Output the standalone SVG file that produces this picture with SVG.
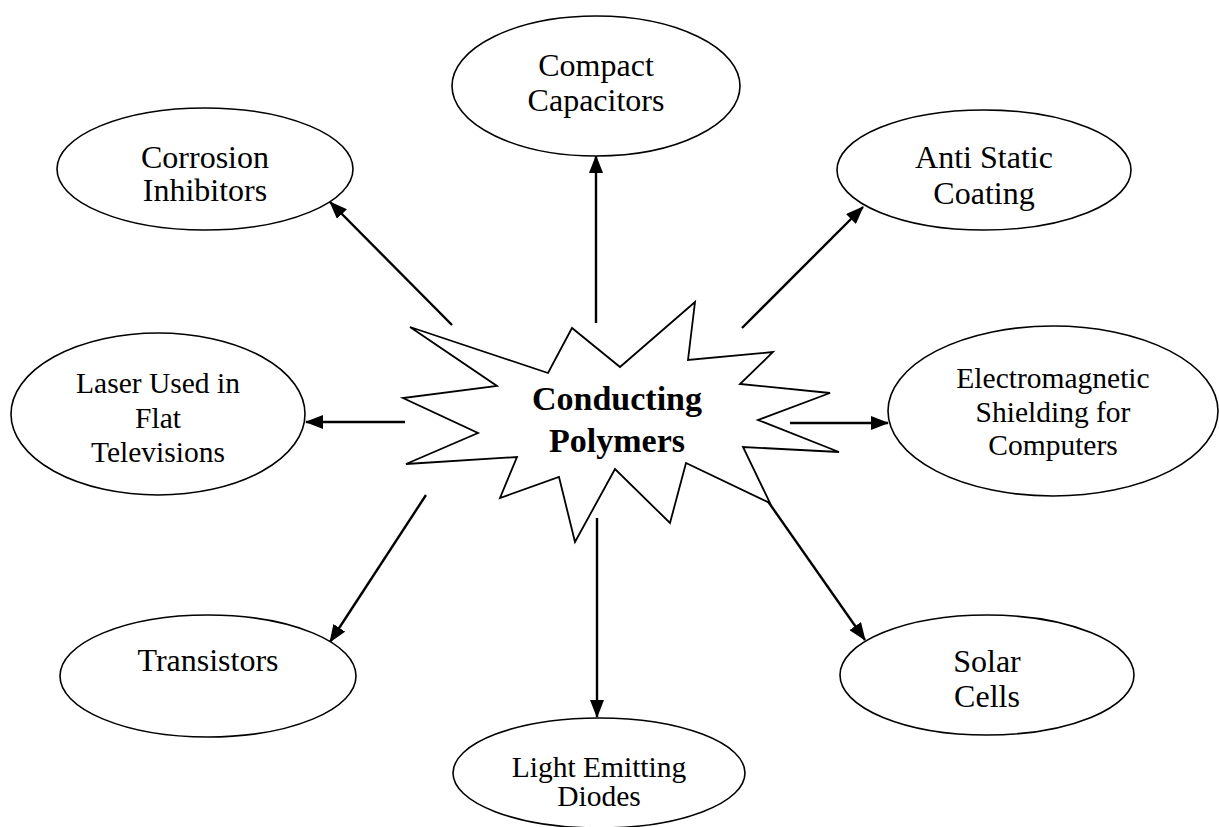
<svg xmlns="http://www.w3.org/2000/svg" width="1219" height="827" viewBox="0 0 1219 827">
<style>
.node ellipse{fill:#fff;stroke:#000;stroke-width:1.6}
.node text{font-family:"Liberation Serif","Times New Roman",serif;font-size:32px;fill:#000;text-anchor:middle}
.node text.s{font-size:29.5px}
.conn line{stroke:#000;stroke-width:2.4;marker-end:url(#ah)}
#star polygon{fill:#fff;stroke:#000;stroke-width:1.8;stroke-linejoin:miter}
#star text{font-family:"Liberation Serif","Times New Roman",serif;font-size:34px;font-weight:bold;text-anchor:middle;fill:#000}
</style>
<defs>
<marker id="ah" markerWidth="18" markerHeight="14" refX="17" refY="7" orient="auto" markerUnits="userSpaceOnUse">
<path d="M0,0 L18,7 L0,14 Z" fill="#000"/>
</marker>
</defs>
<rect width="1219" height="827" fill="#fff"/>
<g class="conn" id="connectors">
<line x1="596" y1="323" x2="596" y2="156"/>
<line x1="452" y1="325" x2="330" y2="202"/>
<line x1="742" y1="328" x2="863" y2="207"/>
<line x1="405" y1="422" x2="306" y2="422"/>
<line x1="790" y1="423" x2="888" y2="423"/>
<line x1="426" y1="495" x2="330" y2="642"/>
<line x1="597" y1="518" x2="597" y2="717"/>
<line x1="760" y1="490" x2="865" y2="640"/>
</g>
<g id="star">
<polygon points="410,327 548,373 572,328 620,367 695,302 688,360 773,352 740,384 830,393 758,420 839,452 743,447 770,503 686,463 670,523 615,469 575,542 559,477 500,498 517,457 406,464 478,433 403,398 497,386"/>
<text x="617" y="410">Conducting</text>
<text x="617" y="452">Polymers</text>
</g>
<g class="node" id="compact">
<ellipse cx="596" cy="86" rx="144" ry="70"/>
<text x="596" y="76">Compact</text>
<text x="596" y="111">Capacitors</text>
</g>
<g class="node" id="corrosion">
<ellipse cx="205" cy="169" rx="148" ry="61"/>
<text x="205" y="168">Corrosion</text>
<text x="205" y="201">Inhibitors</text>
</g>
<g class="node" id="antistatic">
<ellipse cx="984" cy="170" rx="147" ry="60"/>
<text x="984" y="168">Anti Static</text>
<text x="984" y="204">Coating</text>
</g>
<g class="node" id="laser">
<ellipse cx="158" cy="414" rx="147" ry="81"/>
<text class="s" x="158" y="393">Laser Used in</text>
<text class="s" x="158" y="428">Flat</text>
<text class="s" x="158" y="462">Televisions</text>
</g>
<g class="node" id="emshield">
<ellipse cx="1053" cy="411" rx="165" ry="85"/>
<text class="s" x="1053" y="388">Electromagnetic</text>
<text class="s" x="1053" y="422">Shielding for</text>
<text class="s" x="1053" y="455">Computers</text>
</g>
<g class="node" id="transistors">
<ellipse cx="208" cy="676" rx="148" ry="61"/>
<text x="208" y="671">Transistors</text>
</g>
<g class="node" id="led">
<ellipse cx="599" cy="773" rx="146" ry="55"/>
<text class="s" x="599" y="777">Light Emitting</text>
<text class="s" x="599" y="806">Diodes</text>
</g>
<g class="node" id="solar">
<ellipse cx="987" cy="675" rx="147" ry="60"/>
<text x="987" y="672">Solar</text>
<text x="987" y="707">Cells</text>
</g>
</svg>
